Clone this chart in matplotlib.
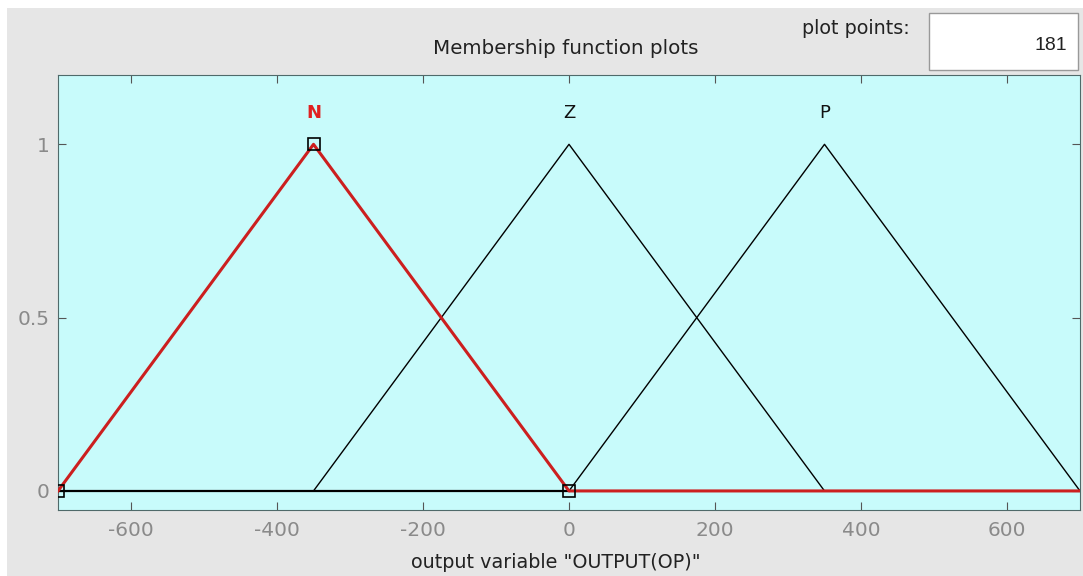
import matplotlib.pyplot as plt
from matplotlib.patches import Rectangle

plt.rcParams['font.family'] = ['DejaVu Sans']
plt.rcParams['axes.unicode_minus'] = False

# membership functions of the output variable (triangle vertices)
mf_names = ['N', 'Z', 'P']
mf_params = [[-700, -350, 0], [-350, 0, 350], [0, 350, 700]]
x_range = [-700, 700]
selected = 'N'
plot_points = 181

x_ticks = [-600, -400, -200, 0, 200, 400, 600]
y_ticks = [0, 0.5, 1]

fig = plt.figure(figsize=(10.83, 5.76), dpi=100)
fig.patch.set_facecolor('white')
# grey panel of the editor window
panel = Rectangle((7 / 1083, 0), 1, 1 - 8 / 576, transform=fig.transFigure,
                  facecolor='#e6e6e6', edgecolor='none', zorder=-10)
fig.patches.append(panel)

ax = fig.add_axes([58 / 1083, 1 - 510 / 576, 1022 / 1083, 435 / 576])
ax.set_facecolor('#c8fbfb')

for name, (a, b, c) in zip(mf_names, mf_params):
    xs = [x_range[0], a, b, c, x_range[1]]
    ys = [0, 0, 1, 0, 0]
    if name == selected:
        ax.plot(xs, ys, color='#cc1f1f', lw=2.2, zorder=3)
        ax.plot([a, b, c], [0, 1, 0], ls='none', marker='s', ms=9,
                mfc='none', mec='black', mew=1.2, zorder=4)
        ax.text(b, 1.09, name, color='#e02020', fontsize=13,
                fontweight='bold', ha='center', va='center')
    else:
        ax.plot(xs, ys, color='black', lw=1.0, zorder=2)
        ax.text(b, 1.09, name, color='#111111', fontsize=13,
                ha='center', va='center')

# zero baseline shared by the unselected functions
ax.plot([x_range[0], mf_params[0][2]], [0, 0], color='black', lw=1.6, zorder=2)

ax.set_xlim(x_range)
ax.set_ylim(-0.055, 1.2)
ax.set_xticks(x_ticks)
ax.set_yticks(y_ticks)
ax.set_yticklabels(['0', '0.5', '1'])
ax.tick_params(direction='in', length=6, colors='#555555', labelcolor='#8a8a8a',
               labelsize=14.5, top=True, right=True)
ax.tick_params(axis='x', pad=8)
ax.tick_params(axis='y', pad=6)
for s in ax.spines.values():
    s.set_color('#4f6a6a')

fig.text(566 / 1083, 1 - 49 / 576, 'Membership function plots', ha='center',
         va='center', fontsize=14.3, color='#222222')
fig.text(556 / 1083, 1 - 563 / 576, 'output variable "OUTPUT(OP)"', ha='center',
         va='center', fontsize=13.8, color='#222222')
fig.text(910 / 1083, 1 - 28 / 576, 'plot points:', ha='right', va='center',
         fontsize=13.8, color='#222222')

box = Rectangle((929 / 1083, 1 - 70 / 576), 149 / 1083, 57 / 576,
                transform=fig.transFigure, facecolor='white',
                edgecolor='#999999', lw=1)
fig.patches.append(box)
fig.text(1067 / 1083, 1 - 45 / 576, str(plot_points), ha='right', va='center',
         fontsize=14, color='#222222', family='Liberation Sans')

fig.savefig('out.png', dpi=100, facecolor=fig.get_facecolor())
